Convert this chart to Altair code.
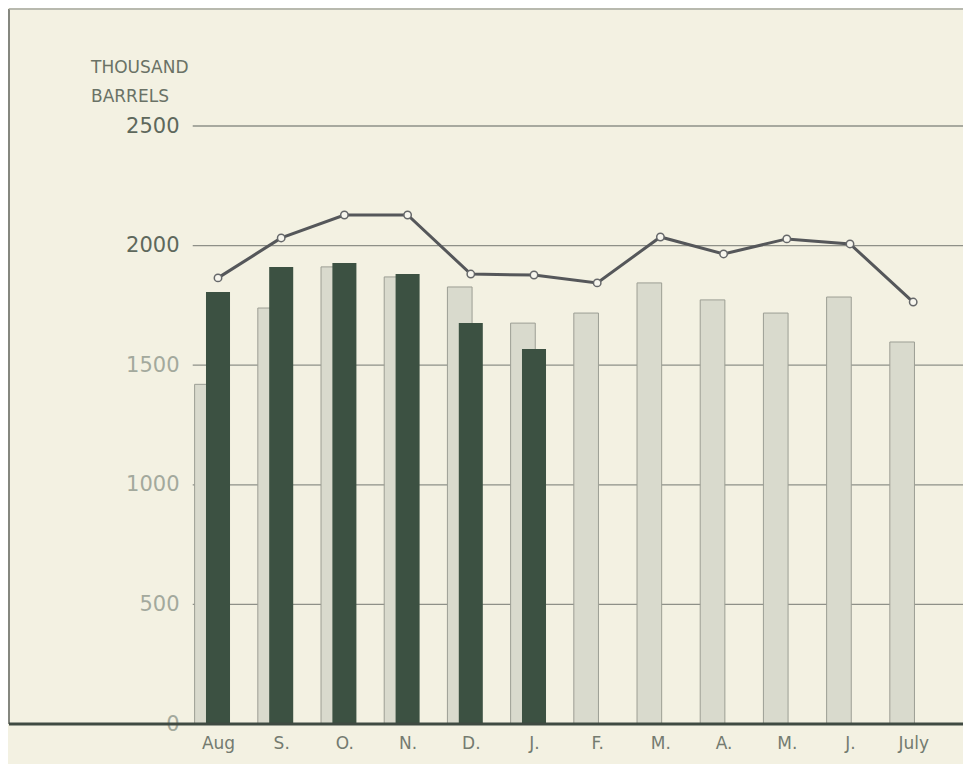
import json
import altair as alt
import pandas as pd

# ---- data ----
months = ["Aug", "S.", "O.", "N.", "D.", "J.", "F.", "M.", "A.", "M.", "J.", "July"]
prev_year = [1420, 1739, 1911, 1869, 1827, 1676, 1718, 1844, 1773, 1718, 1785, 1597]
curr_year = [1806, 1911, 1927, 1881, 1676, 1568]
line_vals = [1865, 2032, 2128, 2128, 1881, 1877, 1844, 2036, 1965, 2028, 2007, 1764]
grid_vals = [500, 1000, 1500, 2000, 2500]
y_ticks = [0, 500, 1000, 1500, 2000, 2500]
title_lines = ["THOUSAND", "BARRELS"]

# ---- layout ----
PAD_L, PAD_T = 6, 2
W, H = 949, 714
STEP = 63.2
C0 = 218 - 8 - PAD_L          # plot-x of the first month centre
XMIN = -C0 / STEP
XMAX = (W - C0) / STEP
YMAX = 2500 * H / 598.0

BG = "#f3f1e2"
TXT = "#6a7266"
FONT = "DejaVu Sans"

xscale = alt.Scale(domain=[XMIN, XMAX], nice=False, zero=False)
yscale = alt.Scale(domain=[0, YMAX], nice=False, zero=True)

label_arr = json.dumps(months)
xaxis = alt.Axis(values=list(range(len(months))), labelExpr=f"{label_arr}[datum.value]",
                 title=None, grid=False, ticks=False, domain=False, labelOverlap=False,
                 labelFlush=False, labelBound=False, labelPadding=11, labelFontSize=17,
                 labelColor="#747b70", labelFont=FONT)
yaxis = alt.Axis(values=y_ticks, format="d", title=None, grid=False, ticks=False, domain=False,
                 offset=-167, labelPadding=2, labelFontSize=21, labelFont=FONT,
                 labelFlush=False,
                 labelColor={"condition": {"test": "datum.value >= 2000", "value": "#5e685c"},
                             "value": "#a3a99d"})


def X(field):
    return alt.X(field, type="quantitative", scale=xscale, axis=xaxis)


def Y(field):
    return alt.Y(field, type="quantitative", scale=yscale, axis=yaxis)


df_prev = pd.DataFrame({"i": range(len(months)), "v": prev_year})
df_curr = pd.DataFrame({"i": range(len(curr_year)), "v": curr_year})
df_line = pd.DataFrame({"i": range(len(months)), "v": line_vals})
df_grid = pd.DataFrame({"v": grid_vals})
df_base = pd.DataFrame({"v": [0]})

frame_left = alt.Chart(df_base).mark_rule(color="#85877f", strokeWidth=2).encode(
    x=alt.value(-5), y=alt.value(-1), y2=alt.value(H))
frame_top = alt.Chart(df_base).mark_rule(color="#a4a69c", strokeWidth=1.5).encode(
    x=alt.value(-5), x2=alt.value(W), y=alt.value(-1))

grid = alt.Chart(df_grid).transform_calculate(
    gx=f"{-0.40}", gx2=f"{XMAX}").mark_rule(color="#8e9088", strokeWidth=1.3).encode(
    x=X("gx"), x2=alt.X2("gx2"), y=Y("v"))

light = alt.Chart(df_prev).transform_calculate(
    x1="datum.i - 0.37", x2="datum.i + 0.02", z="0").mark_rect(
    fill="#d9dacd", stroke="#9c9e94", strokeWidth=1).encode(
    x=X("x1"), x2=alt.X2("x2"), y=Y("v"), y2=alt.Y2("z"))

dark = alt.Chart(df_curr).transform_calculate(
    x1="datum.i - 0.19", x2="datum.i + 0.19", z="0").mark_rect(
    fill="#3c5142").encode(
    x=X("x1"), x2=alt.X2("x2"), y=Y("v"), y2=alt.Y2("z"))

baseline = alt.Chart(df_base).transform_calculate(
    bx=f"{XMIN - 5 / STEP}", bx2=f"{XMAX}").mark_rule(color="#3f4a42", strokeWidth=3).encode(
    x=X("bx"), x2=alt.X2("bx2"), y=Y("v"))

line = alt.Chart(df_line).mark_line(color="#55575a", strokeWidth=3).encode(
    x=X("i"), y=Y("v"))
points = alt.Chart(df_line).mark_point(filled=True, fill="#f7f6ee", stroke="#66686a",
                                       strokeWidth=1.5, size=55, opacity=1).encode(
    x=X("i"), y=Y("v"))

t1 = alt.Chart(df_base).mark_text(align="left", baseline="top", fontSize=17, font=FONT,
                                  color=TXT).encode(
    x=alt.value(91 - 8 - PAD_L), y=alt.value(60 - 8 - PAD_T), text=alt.value(title_lines[0]))
t2 = alt.Chart(df_base).mark_text(align="left", baseline="top", fontSize=17, font=FONT,
                                  color=TXT).encode(
    x=alt.value(91 - 8 - PAD_L), y=alt.value(89 - 8 - PAD_T), text=alt.value(title_lines[1]))

chart = alt.layer(frame_left, frame_top, grid, light, dark, baseline, line, points, t1, t2).properties(
    width=W, height=H,
    autosize=alt.AutoSizeParams(type="none"),
    padding={"left": PAD_L, "top": PAD_T, "right": 0, "bottom": 40},
    background=BG,
).configure_view(stroke=None)

chart.save("out.html", embed_options={"renderer": "svg", "actions": False})
